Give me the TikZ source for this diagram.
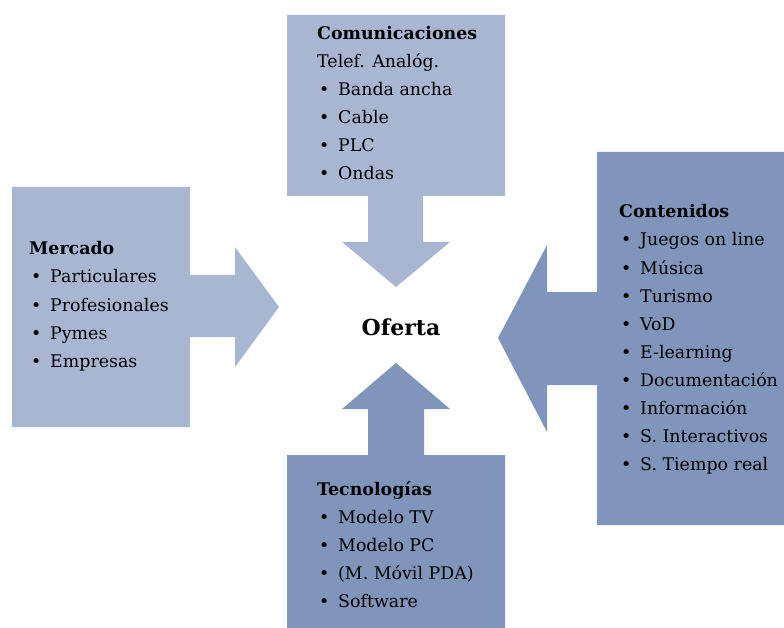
\documentclass[tikz,border=0pt]{standalone}
\usepackage{fontspec}
\setmainfont{DejaVu Serif}
\definecolor{lightbox}{RGB}{169,182,210}
\definecolor{darkbox}{RGB}{127,149,186}
\tikzset{
  shapelight/.style={fill=lightbox, draw=none},
  shapedark/.style={fill=darkbox, draw=none},
  txt/.style={anchor=base west, inner sep=0pt, font=\fontsize{17.4}{20}\selectfont, text=black},
  head/.style={txt, font=\fontsize{17.4}{20}\selectfont\bfseries},
}
\newcommand{\itm}[1]{\makebox[21pt][l]{\hspace{2pt}\textbullet}#1}
\begin{document}
\begin{tikzpicture}[x=1pt,y=-1pt]
\useasboundingbox (0,0) rectangle (784,628);
\begin{scope}
\clip (0,0) rectangle (784,628);
% top (Comunicaciones)
\fill[shapelight] (287,15) -- (505,15) -- (505,196) -- (423,196) -- (423,242) -- (450,242) -- (396,287) -- (342,242) -- (368,242) -- (368,196) -- (287,196) -- cycle;
% left (Mercado)
\fill[shapelight] (12,187) -- (190,187) -- (190,275) -- (235,275) -- (235,247) -- (279,307) -- (235,367) -- (235,337) -- (190,337) -- (190,427) -- (12,427) -- cycle;
% right (Contenidos)
\fill[shapedark] (597,152) -- (795,152) -- (795,525) -- (597,525) -- (597,385) -- (547,385) -- (547,432) -- (498,338) -- (547,245) -- (547,292) -- (597,292) -- cycle;
% bottom (Tecnologias)
\fill[shapedark] (287,455) -- (368,455) -- (368,409) -- (342,409) -- (396,363) -- (450,409) -- (424,409) -- (424,455) -- (505,455) -- (505,635) -- (287,635) -- cycle;
\end{scope}

\node[anchor=base, inner sep=0pt, font=\fontsize{22}{24}\selectfont\bfseries] (oferta) at (401,335) {Oferta};

% Comunicaciones
\node[head] (c0) at (317,40) {Comunicaciones};
\node[txt] (c1) at (317,68) {Telef. Analóg.};
\node[txt] (c2) at (317,96) {\itm{Banda ancha}};
\node[txt] (c3) at (317,124) {\itm{Cable}};
\node[txt] (c4) at (317,152) {\itm{PLC}};
\node[txt] (c5) at (317,180) {\itm{Ondas}};

% Mercado
\node[head] (m0) at (29,255) {Mercado};
\node[txt] (m1) at (29,283) {\itm{Particulares}};
\node[txt] (m2) at (29,311) {\itm{Profesionales}};
\node[txt] (m3) at (29,339) {\itm{Pymes}};
\node[txt] (m4) at (29,367) {\itm{Empresas}};

% Contenidos
\node[head] (k0) at (619,218) {Contenidos};
\node[txt] (k1) at (619,246) {\itm{Juegos on line}};
\node[txt] (k2) at (619,274) {\itm{Música}};
\node[txt] (k3) at (619,302) {\itm{Turismo}};
\node[txt] (k4) at (619,330) {\itm{VoD}};
\node[txt] (k5) at (619,358) {\itm{E-learning}};
\node[txt] (k6) at (619,386) {\itm{Documentación}};
\node[txt] (k7) at (619,414) {\itm{Información}};
\node[txt] (k8) at (619,442) {\itm{S. Interactivos}};
\node[txt] (k9) at (619,470) {\itm{S. Tiempo real}};

% Tecnologias
\node[head] (t0) at (317,495) {Tecnologías};
\node[txt] (t1) at (317,523) {\itm{Modelo TV}};
\node[txt] (t2) at (317,551) {\itm{Modelo PC}};
\node[txt] (t3) at (317,579) {\itm{(M. Móvil PDA)}};
\node[txt] (t4) at (317,607) {\itm{Software}};
\end{tikzpicture}
\end{document}
